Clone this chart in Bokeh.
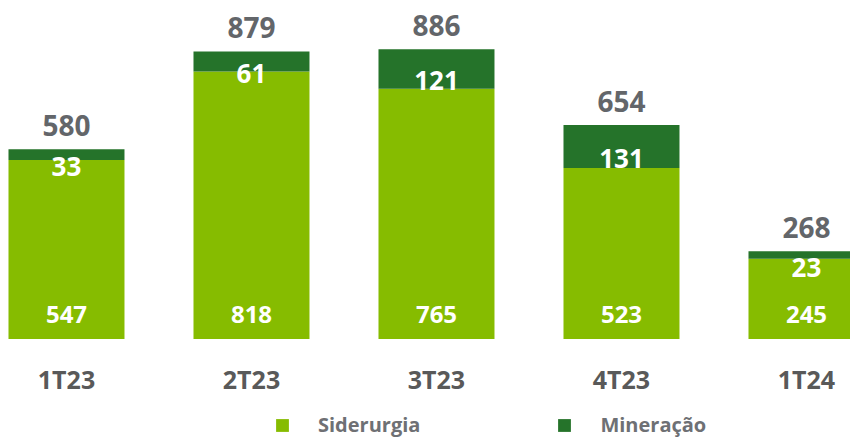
from bokeh.plotting import figure
from bokeh.models import ColumnDataSource, Range1d, Legend, LegendItem
from bokeh.embed import file_html
from bokeh.resources import INLINE
from bokeh.core.properties import value

categories = ["1T23", "2T23", "3T23", "4T23", "1T24"]
siderurgia = [547, 818, 765, 523, 245]
mineracao = [33, 61, 121, 131, 23]

LIGHT = "#86BC00"
DARK = "#25732A"
FONT = value("Open Sans")

x = list(range(len(categories)))
totals = [s + m for s, m in zip(siderurgia, mineracao)]
mids = [s + m / 2 for s, m in zip(siderurgia, mineracao)]

src = ColumnDataSource(dict(
    x=x, cat=categories, sid=siderurgia, min=mineracao, tot=totals, mid=mids,
    zero=[0] * len(x),
    sid_t=[str(v) for v in siderurgia],
    min_t=[str(v) for v in mineracao],
    tot_t=[str(v) for v in totals],
))

W = 0.627
p = figure(width=850, height=438, output_backend="svg", toolbar_location=None,
           x_axis_location=None, y_axis_location=None,
           x_range=Range1d(-0.3567, 4.2379), y_range=Range1d(-304.2, 1034.9),
           min_border=0, outline_line_color=None)
p.grid.visible = False
p.background_fill_color = "white"
p.border_fill_color = "white"

r1 = p.vbar(x="x", width=W, bottom=0, top="sid", source=src,
            fill_color=LIGHT, line_color=None)
r2 = p.vbar(x="x", width=W, bottom="sid", top="tot", source=src,
            fill_color=DARK, line_color=None)

# totals
p.text(x="x", y="tot", text="tot_t", source=src, text_align="center",
       text_baseline="alphabetic", y_offset=-24, text_font=FONT,
       text_font_size="28px", text_font_style="bold", text_color="#63666A")
# mineracao labels
p.text(x="x", y="mid", text="min_t", source=src, text_align="center",
       text_baseline="alphabetic", y_offset=12, text_font=FONT,
       text_font_size="26px", text_font_style="bold", text_color="white")
# siderurgia labels
p.text(x="x", y="zero", text="sid_t", source=src, text_align="center",
       text_baseline="alphabetic", y_offset=-25, text_font=FONT,
       text_font_size="24px", text_font_style="bold", text_color="white")
# category labels
p.text(x="x", y="zero", text="cat", source=src, text_align="center",
       text_baseline="alphabetic", y_offset=40, text_font=FONT,
       text_font_size="25px", text_font_style="bold", text_color="#595959")

legend = Legend(items=[LegendItem(label="Siderurgia", renderers=[r1]),
                       LegendItem(label="Mineração", renderers=[r2])],
                orientation="horizontal", location=(274, 0),
                border_line_color=None, background_fill_alpha=0,
                padding=0, margin=0, spacing=136, label_standoff=28,
                glyph_width=16, glyph_height=16, label_height=20,
                label_text_font="Open Sans", label_text_font_size="20px",
                label_text_font_style="bold", label_text_color="#6E7074")
p.add_layout(legend)

open("out.html", "w").write(file_html(p, INLINE))
